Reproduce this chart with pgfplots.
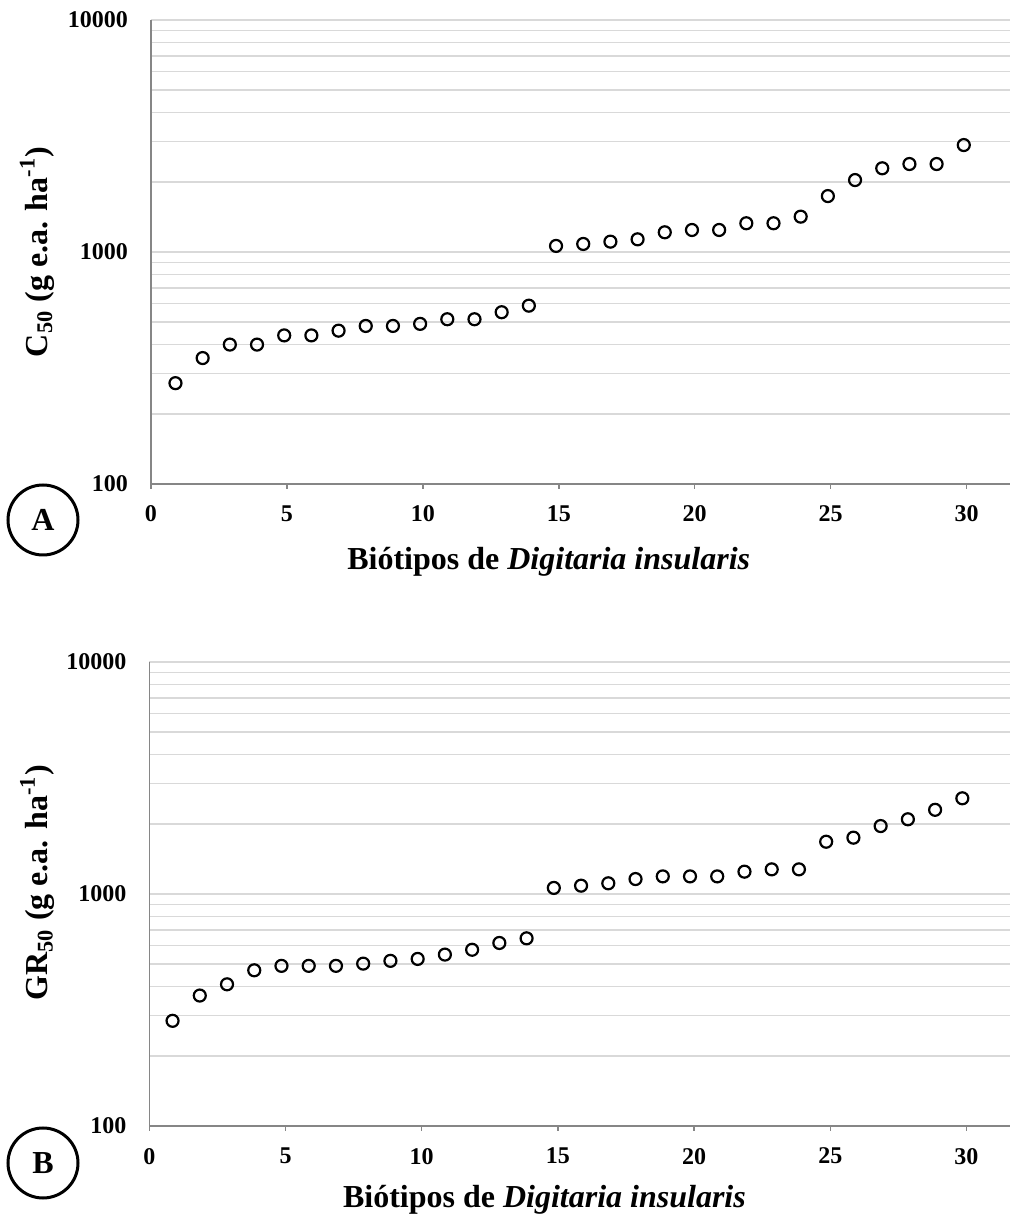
\documentclass[border=0pt]{standalone}
\usepackage{fontspec}
\setmainfont{Liberation Serif}
\usepackage{pgfplots}
\pgfplotsset{compat=1.18}

\definecolor{gridc}{RGB}{217,217,217}
\definecolor{axc}{RGB}{134,134,134}

\begin{document}
\begin{tikzpicture}
\useasboundingbox (0,0) rectangle (505pt,608pt);

% painel A
\begin{axis}[
  scale only axis, width=429.5pt, height=232pt,
  at={(75.5pt,366pt)}, anchor=south west,
  ymode=log, xmin=0, xmax=31.6, ymin=100, ymax=10000,
  axis lines=left,
  axis line style={draw=axc, line width=0.75pt, -},
  xtick={0,5,...,30},
  ytick={100,1000,10000}, yticklabels={100,1000,10000},
  ymajorgrids, yminorgrids,
  major grid style={draw=gridc, line width=0.7pt},
  minor grid style={draw=gridc, line width=0.7pt},
  minor tick length=0pt, tick align=outside,
  xtick style={draw=axc, line width=0.75pt},
  ytick style={draw=none},
  major tick length=2.5pt,
  /pgf/number format/assume math mode=true,
  tick label style={font=\bfseries\fontsize{12}{14}\selectfont},
  yticklabel style={xshift=-5.5pt},
  xticklabel style={yshift=-5pt},
  xlabel={Biótipos de \textit{Digitaria insularis}},
  ylabel={C\textsubscript{50} (g e.a. ha\textsuperscript{-1})},
  xlabel style={font=\bfseries\fontsize{16}{19}\selectfont,
    at={(axis description cs:0.463,-0.168)}, anchor=center},
  ylabel style={font=\bfseries\fontsize{16}{19}\selectfont,
    at={(axis description cs:-0.1328,0.5)}, anchor=center},
  clip=false,
]
\addplot[only marks, mark=o, mark size=3pt,
  mark options={draw=black, line width=1.1pt}] coordinates {
(0.9,272)(1.9,349)(2.9,399)(3.9,399)(4.9,437)(5.9,437)(6.9,458)(7.9,480)
(8.9,480)(9.9,490)(10.9,513)(11.9,513)(12.9,550)(13.9,587)(14.9,1062)
(15.9,1083)(16.9,1108)(17.9,1134)(18.9,1216)(19.9,1244)(20.9,1244)
(21.9,1330)(22.9,1330)(23.9,1420)(24.9,1742)(25.9,2042)(26.9,2295)
(27.9,2394)(28.9,2394)(29.9,2890)
};
\end{axis}

% painel B
\begin{axis}[
  scale only axis, width=430.3pt, height=232pt,
  at={(74.7pt,45pt)}, anchor=south west,
  ymode=log, xmin=0, xmax=31.6, ymin=100, ymax=10000,
  axis lines=left,
  axis line style={draw=axc, line width=0.75pt, -},
  xtick={0,5,...,30},
  ytick={100,1000,10000}, yticklabels={100,1000,10000},
  ymajorgrids, yminorgrids,
  major grid style={draw=gridc, line width=0.7pt},
  minor grid style={draw=gridc, line width=0.7pt},
  minor tick length=0pt, tick align=outside,
  xtick style={draw=axc, line width=0.75pt},
  ytick style={draw=none},
  major tick length=2.5pt,
  /pgf/number format/assume math mode=true,
  tick label style={font=\bfseries\fontsize{12}{14}\selectfont},
  yticklabel style={xshift=-5.5pt},
  xticklabel style={yshift=-5pt},
  xlabel={Biótipos de \textit{Digitaria insularis}},
  ylabel={GR\textsubscript{50} (g e.a. ha\textsuperscript{-1})},
  xlabel style={font=\bfseries\fontsize{16}{19}\selectfont,
    at={(axis description cs:0.459,-0.16)}, anchor=center},
  ylabel style={font=\bfseries\fontsize{16}{19}\selectfont,
    at={(axis description cs:-0.1303,0.524)}, anchor=center},
  clip=false,
]
\addplot[only marks, mark=o, mark size=3pt,
  mark options={draw=black, line width=1.1pt}] coordinates {
(0.85,284)(1.85,365)(2.85,408)(3.85,469)(4.85,490)(5.85,490)(6.85,490)
(7.85,501)(8.85,515)(9.85,525)(10.85,548)(11.85,575)(12.85,615)(13.85,644)
(14.85,1062)(15.85,1086)(16.85,1112)(17.85,1160)(18.85,1191)(19.85,1191)
(20.85,1191)(21.85,1248)(22.85,1277)(23.85,1277)(24.85,1680)(25.85,1749)
(26.85,1963)(27.85,2099)(28.85,2306)(29.85,2585)
};
\end{axis}

\node[draw=black, line width=1.5pt, circle, minimum size=35pt, inner sep=0pt,
  font=\bfseries\fontsize{16}{19}\selectfont] at (21.5pt,348pt) {A};
\node[draw=black, line width=1.5pt, circle, minimum size=35pt, inner sep=0pt,
  font=\bfseries\fontsize{16}{19}\selectfont] at (21.5pt,26.5pt) {B};
\end{tikzpicture}
\end{document}
